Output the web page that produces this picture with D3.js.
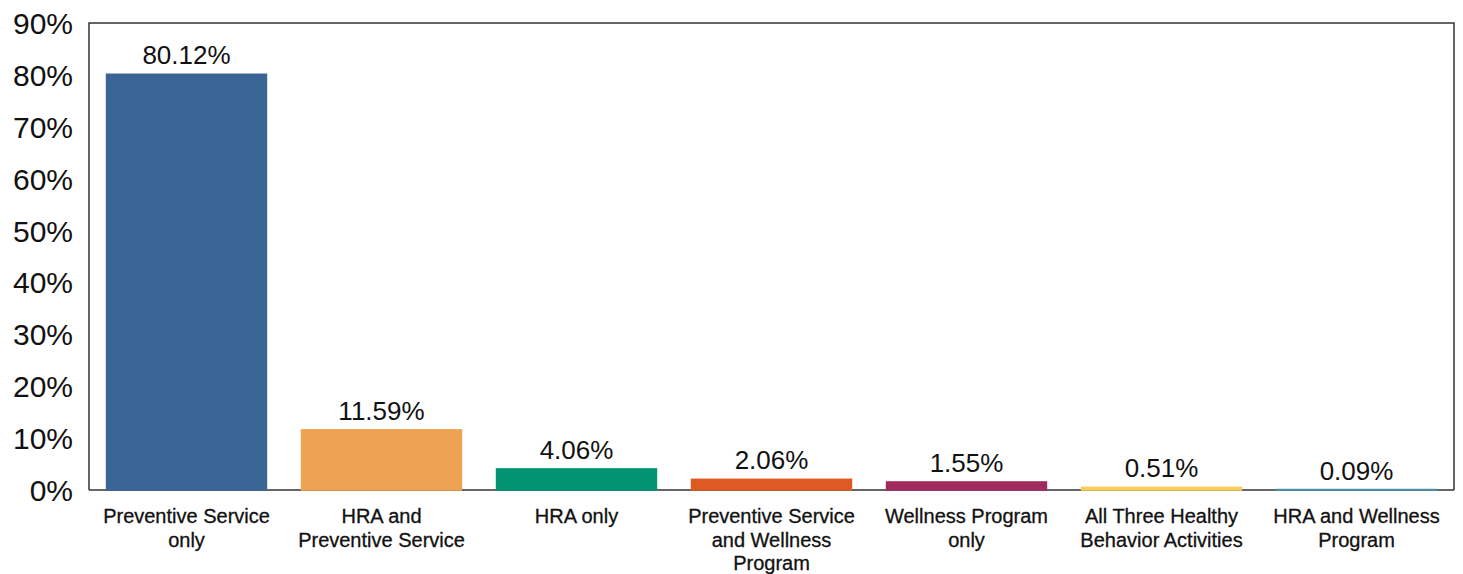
<!DOCTYPE html>
<html>
<head>
<meta charset="utf-8">
<script src="https://cdn.jsdelivr.net/npm/d3@7"></script>
<style>
  body { margin: 0; background: #fff; }
  .chart text { font-family: "Liberation Sans", Arial, sans-serif; fill: #111; }
</style>
</head>
<body>
<div class="chart"></div>
<script>
// data
var categories = [
  ["Preventive Service", "only"],
  ["HRA and", "Preventive Service"],
  ["HRA only"],
  ["Preventive Service", "and Wellness", "Program"],
  ["Wellness Program", "only"],
  ["All Three Healthy", "Behavior Activities"],
  ["HRA and Wellness", "Program"]
];
var values = [80.12, 11.59, 4.06, 2.06, 1.55, 0.51, 0.09];
var colors = ["#3a6594", "#eea353", "#009470", "#de5a22", "#a02b5f", "#f9cb5b", "#4a91a8"];
var yTicks = [0, 10, 20, 30, 40, 50, 60, 70, 80, 90];

var svgWidth = 1463;
var svgHeight = 574;

var margin = { top: 23, right: 9, bottom: 84, left: 89 };
var width = svgWidth - margin.left - margin.right;
var height = svgHeight - margin.top - margin.bottom;

var svg = d3.select(".chart")
  .append("svg")
  .attr("width", svgWidth)
  .attr("height", svgHeight);

var chartGroup = svg.append("g")
  .attr("transform", `translate(${margin.left}, ${margin.top})`);

var xScale = d3.scaleBand()
  .domain(d3.range(values.length))
  .range([0, width])
  .paddingInner(0.18)
  .paddingOuter(0.09);

var yScale = d3.scaleLinear()
  .domain([0, 90])
  .range([height, 0]);

// frame: left, top, right
chartGroup.append("path")
  .attr("d", `M0,${height}V0H${width}V${height}`)
  .attr("fill", "none")
  .attr("stroke", "#333")
  .attr("stroke-width", 1.5);

// y axis labels, no tick marks
var leftAxis = d3.axisLeft(yScale)
  .tickValues(yTicks)
  .tickSize(0)
  .tickPadding(16)
  .tickFormat(d => d + "%");

var yAxis = chartGroup.append("g").call(leftAxis);
yAxis.select(".domain").remove();
yAxis.selectAll("text")
  .style("font-size", "30px")
  .attr("dy", "0.35em");

// zero line
chartGroup.append("line")
  .attr("x1", 0)
  .attr("x2", width)
  .attr("y1", height)
  .attr("y2", height)
  .attr("stroke", "#333")
  .attr("stroke-width", 1.5);

// bars
chartGroup.selectAll("rect.bar")
  .data(values)
  .enter()
  .append("rect")
  .attr("class", "bar")
  .attr("x", (d, i) => xScale(i))
  .attr("y", d => yScale(d))
  .attr("width", xScale.bandwidth())
  .attr("height", d => height - yScale(d))
  .attr("fill", (d, i) => colors[i])
  .attr("stroke", (d, i) => colors[i])
  .attr("stroke-width", 1.5);

// value labels
chartGroup.selectAll("text.value")
  .data(values)
  .enter()
  .append("text")
  .attr("class", "value")
  .attr("x", (d, i) => xScale(i) + xScale.bandwidth() / 2)
  .attr("y", d => yScale(d) - 10)
  .attr("text-anchor", "middle")
  .style("font-size", "26px")
  .text(d => d.toFixed(2) + "%");

// category labels
var catGroup = chartGroup.selectAll("text.cat")
  .data(categories)
  .enter()
  .append("text")
  .attr("class", "cat")
  .attr("text-anchor", "middle")
  .attr("transform", (d, i) => `translate(${xScale(i) + xScale.bandwidth() / 2}, ${height + 33})`)
  .style("font-size", "20px")
  .style("stroke", "#111")
  .style("stroke-width", 0.3);

catGroup.selectAll("tspan")
  .data(d => d)
  .enter()
  .append("tspan")
  .attr("x", 0)
  .attr("y", (d, j) => j * 23.5)
  .text(d => d);
</script>
</body>
</html>
